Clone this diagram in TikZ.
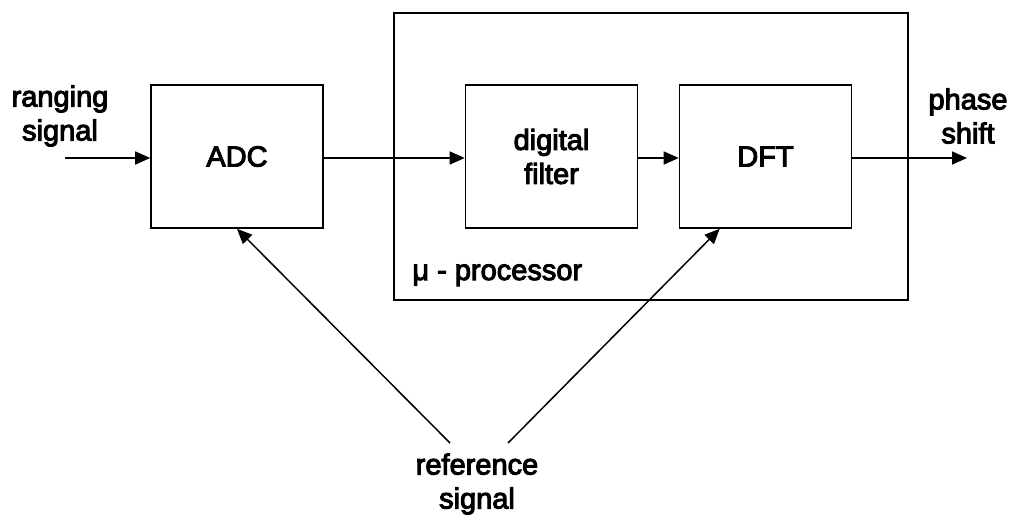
\documentclass[tikz,border=0pt]{standalone}
\usepackage{fontspec}
\setmainfont{Liberation Sans}
\newfontfamily\labelfont{Liberation Sans}[FakeBold=3.5]
\usetikzlibrary{arrows.meta}
\tikzset{
  block/.style={draw, line width=0.8pt, minimum width=86pt, minimum height=71.5pt, inner sep=0pt},
  frame/.style={draw, line width=0.8pt, minimum width=257pt, minimum height=143.5pt, inner sep=0pt},
  lbl/.style={align=center, inner sep=0pt, font=\labelfont\fontsize{14.5}{17}\selectfont},
  sig/.style={line width=0.75pt, -{Triangle[length=7.5pt,width=6.5pt]}}
}
\begin{document}
\begin{tikzpicture}[x=0.5pt,y=-0.5pt]
  \useasboundingbox (0,0) rectangle (1026,519);
  % processor frame
  \node[frame] (mp) at (651,156.5) {};
  % blocks
  \node[block, lbl] (adc) at (237,156.5) {ADC};
  \node[block, lbl] (filt) at (551.5,156.5) {digital\\filter};
  \node[block, lbl] (dft) at (765.5,156.5) {DFT};
  % labels
  \node[lbl] (in) at (60,116) {ranging\\signal};
  \node[lbl] (out) at (968,116) {phase\\shift};
  \node[lbl, anchor=base west] (mpl) at (412,280) {μ - processor};
  \node[lbl] (ref) at (477,484) {reference\\signal};
  % free ends of connectors
  \coordinate (src) at (65,158);
  \coordinate (dst) at (967,158);
  \coordinate (refl) at (450,443);
  \coordinate (refr) at (508,443);
  % signal path
  \draw[sig] (src) -- (src -| adc.west);
  \draw[sig] (adc.east |- src) -- (filt.west |- src);
  \draw[sig] (filt.east |- src) -- (dft.west |- src);
  \draw[sig] (dft.east |- src) -- (dst);
  % reference inputs
  \draw[sig] (refl) -- (adc.south);
  \draw[sig] (refr) -- ([xshift=20.5pt]dft.south west);
\end{tikzpicture}
\end{document}
